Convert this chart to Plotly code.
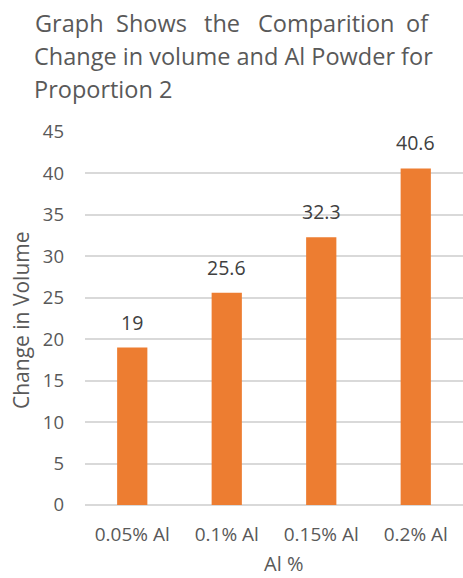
import plotly.graph_objects as go

# Chart data
categories = ["0.05% Al", "0.1% Al", "0.15% Al", "0.2% Al"]
change_in_volume = [19, 25.6, 32.3, 40.6]
y_ticks = [0, 5, 10, 15, 20, 25, 30, 35, 40, 45]

title_line1_words = ["Graph", "Shows", "the", "Comparition", "of"]
title_line2 = "Change in volume and Al Powder for"
title_line3 = "Proportion 2"

FONT = "Open Sans"
AXIS_GREY = "#595959"
LABEL_GREY = "#404040"
BAR_ORANGE = "#ED7D31"
GRID = "#D9D9D9"

W, H = 463, 578
L, R, T, B = 85, 0, 132, 73
PW, PH = W - L - R, H - T - B
TITLE_SIZE = 23.5


def px_x(px):
    return (px - L) / PW


def px_y(py):
    return (H - B - py) / PH


fig = go.Figure(
    go.Bar(
        x=categories,
        y=change_in_volume,
        marker=dict(color=BAR_ORANGE, line=dict(width=0)),
        width=0.32,
        hoverinfo="x+y",
    )
)

annotations = []

# value labels above each bar
for c, v in zip(categories, change_in_volume):
    annotations.append(dict(
        x=c, y=v, xref="x", yref="y", text=f"{v:g}",
        showarrow=False, yanchor="bottom", yshift=10,
        font=dict(family=FONT, size=19.5, color=LABEL_GREY),
    ))

# justified title: first line spread word by word across the full width
line1_pos = [(33, "left"), (151, "center"), (222, "center"), (326, "center"), (431, "right")]
for word, (lx, anchor) in zip(title_line1_words, line1_pos):
    annotations.append(dict(
        x=px_x(lx), y=px_y(23), xref="paper", yref="paper", text=word,
        showarrow=False, xanchor=anchor, yanchor="middle",
        font=dict(family=FONT, size=TITLE_SIZE, color=AXIS_GREY),
    ))
annotations.append(dict(
    x=px_x(32), y=px_y(56), xref="paper", yref="paper", text=title_line2,
    showarrow=False, xanchor="left", yanchor="middle",
    font=dict(family=FONT, size=TITLE_SIZE, color=AXIS_GREY),
))
annotations.append(dict(
    x=px_x(32), y=px_y(89), xref="paper", yref="paper", text=title_line3,
    showarrow=False, xanchor="left", yanchor="middle",
    font=dict(family=FONT, size=TITLE_SIZE, color=AXIS_GREY),
))

# axis titles
annotations.append(dict(
    x=px_x(21), y=px_y(320), xref="paper", yref="paper", text="Change in Volume",
    textangle=-90, showarrow=False, xanchor="center", yanchor="middle",
    font=dict(family=FONT, size=21, color=AXIS_GREY),
))
annotations.append(dict(
    x=px_x(283), y=px_y(563), xref="paper", yref="paper", text="Al %",
    showarrow=False, xanchor="center", yanchor="middle",
    font=dict(family=FONT, size=20, color=AXIS_GREY),
))

fig.update_layout(
    width=W, height=H,
    margin=dict(l=L, r=R, t=T, b=B, pad=0),
    paper_bgcolor="white", plot_bgcolor="white",
    showlegend=False,
    annotations=annotations,
    xaxis=dict(
        range=[-0.5, 3.5], showgrid=False, showline=False, zeroline=False,
        ticks="", tickfont=dict(family=FONT, size=19, color=AXIS_GREY),
        ticklabelstandoff=16,
    ),
    yaxis=dict(
        range=[0, 45], tickvals=y_ticks, showgrid=True, gridcolor=GRID, gridwidth=1.5,
        zeroline=True, zerolinecolor=GRID, zerolinewidth=1.5, showline=False,
        ticks="", ticklabelstandoff=20,
        tickfont=dict(family=FONT, size=18.5, color=AXIS_GREY),
    ),
)

fig.write_html("out.html", config={"displayModeBar": False})
